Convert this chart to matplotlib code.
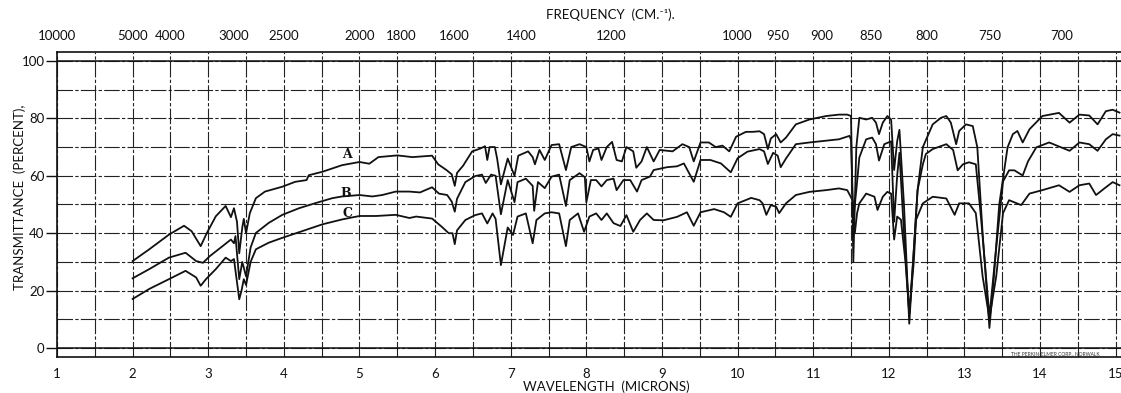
import numpy as np
import matplotlib.pyplot as plt

plt.rcParams['font.family'] = ['Lato', 'DejaVu Sans']

# Curve A (upper spectrum): wavelength in microns, transmittance in percent
wl_a = [2.00, 2.22, 2.48, 2.68, 2.78, 2.90, 2.98, 3.10, 3.23, 3.30, 3.34, 3.38, 3.41, 3.45, 3.47, 3.50,
        3.55, 3.63, 3.75, 3.98, 4.15, 4.30, 4.33, 4.51, 4.77, 5.00, 5.13, 5.25, 5.50, 5.70, 5.96, 6.04,
        6.15, 6.22, 6.26, 6.29, 6.37, 6.49, 6.60, 6.66, 6.69, 6.72, 6.79, 6.82, 6.87, 6.92, 6.96, 7.05,
        7.10, 7.23, 7.29, 7.32, 7.38, 7.45, 7.54, 7.64, 7.73, 7.80, 7.91, 8.00, 8.04, 8.09, 8.16, 8.20,
        8.27, 8.34, 8.40, 8.47, 8.53, 8.62, 8.66, 8.73, 8.80, 8.89, 8.97, 9.14, 9.27, 9.36, 9.42, 9.51,
        9.62, 9.71, 9.80, 9.89, 9.98, 10.11, 10.20, 10.29, 10.35, 10.40, 10.44, 10.51, 10.57, 10.64,
        10.77, 10.95, 11.06, 11.17, 11.34, 11.45, 11.50, 11.53, 11.57, 11.61, 11.70, 11.78, 11.83,
        11.87, 11.92, 11.98, 12.03, 12.07, 12.11, 12.14, 12.20, 12.27, 12.32, 12.38, 12.45, 12.58,
        12.69, 12.76, 12.82, 12.89, 12.93, 13.02, 13.11, 13.17, 13.24, 13.33, 13.39, 13.46, 13.57,
        13.64, 13.70, 13.77, 13.86, 14.03, 14.25, 14.39, 14.52, 14.65, 14.76, 14.87, 14.96, 15.05]
t_a = [30.3, 34.4, 39.5, 42.6, 40.7, 35.5, 40.0, 45.9, 49.5, 45.6, 48.7, 44.0, 33.0, 42.0, 45.0, 40.0,
       47.0, 52.2, 54.5, 56.2, 57.9, 58.5, 60.2, 61.4, 63.7, 64.8, 64.2, 66.5, 67.1, 66.5, 67.0, 64.0,
       62.0, 60.5, 56.5, 61.0, 63.5, 68.5, 69.5, 70.3, 65.5, 70.0, 70.0, 66.0, 57.0, 62.0, 66.0, 60.0,
       67.0, 68.5, 66.5, 64.0, 69.0, 65.5, 70.7, 71.0, 62.0, 70.0, 71.0, 70.0, 65.0, 69.0, 69.5, 65.5,
       70.0, 71.8, 65.5, 65.0, 70.0, 68.5, 62.8, 65.0, 70.0, 65.0, 69.0, 68.5, 71.0, 70.0, 65.0, 71.6,
       71.6, 70.0, 70.5, 68.5, 73.6, 75.3, 75.3, 75.5, 74.5, 69.3, 73.0, 74.5, 71.6, 73.3,
       77.9, 79.6, 80.2, 80.8, 81.3, 81.3, 80.8, 30.0, 70.0, 80.2, 79.6, 80.2, 78.5,
       74.5, 78.5, 80.8, 79.6, 62.0, 72.0, 76.0, 50.0, 8.5, 30.0, 55.0, 70.0, 77.9,
       80.2, 80.8, 78.5, 71.0, 75.6, 77.9, 77.3, 69.9, 40.0, 7.0, 25.0, 50.0, 69.9,
       74.5, 75.6, 71.6, 76.2, 80.8, 81.9, 78.5, 81.3, 81.0, 77.9, 82.5, 83.0, 82.0]

# Curve B (middle spectrum)
wl_b = [2.00, 2.22, 2.48, 2.70, 2.84, 2.93, 3.02, 3.19, 3.30, 3.34, 3.36, 3.41, 3.45, 3.47, 3.50, 3.56,
        3.63, 3.80, 3.98, 4.20, 4.42, 4.64, 4.77, 5.00, 5.17, 5.30, 5.48, 5.66, 5.80, 5.96, 6.05, 6.16,
        6.22, 6.26, 6.29, 6.40, 6.53, 6.62, 6.67, 6.74, 6.80, 6.87, 6.96, 7.05, 7.09, 7.20, 7.29, 7.31,
        7.36, 7.45, 7.54, 7.64, 7.73, 7.78, 7.91, 7.98, 8.00, 8.06, 8.13, 8.20, 8.27, 8.36, 8.40, 8.49,
        8.58, 8.67, 8.73, 8.84, 8.89, 8.98, 9.07, 9.20, 9.29, 9.42, 9.51, 9.64, 9.78, 9.91, 10.00,
        10.13, 10.29, 10.35, 10.40, 10.47, 10.53, 10.57, 10.64, 10.77, 10.95, 11.17, 11.34, 11.48,
        11.50, 11.53, 11.57, 11.61, 11.70, 11.78, 11.83, 11.87, 11.94, 12.03, 12.07, 12.11, 12.14,
        12.20, 12.27, 12.32, 12.38, 12.45, 12.49, 12.58, 12.76, 12.85, 12.91, 12.98, 13.06, 13.15,
        13.22, 13.33, 13.42, 13.51, 13.59, 13.66, 13.77, 13.84, 13.95, 14.12, 14.39, 14.52, 14.65,
        14.76, 14.87, 14.96, 15.05]
t_b = [24.3, 27.5, 31.5, 33.2, 30.3, 29.7, 32.0, 35.5, 37.8, 36.5, 39.0, 24.0, 30.0, 28.0, 25.0, 35.0,
       40.1, 43.6, 46.4, 48.7, 50.5, 52.2, 52.8, 53.3, 52.8, 53.3, 54.5, 54.5, 54.2, 56.0, 53.8, 53.3,
       51.0, 47.5, 52.0, 57.8, 59.9, 60.4, 57.5, 60.4, 60.0, 46.6, 58.5, 50.8, 57.8, 59.0, 56.5, 47.8,
       57.8, 55.7, 59.7, 60.4, 49.5, 58.5, 60.9, 59.5, 50.8, 58.5, 58.5, 56.3, 58.5, 59.0, 55.0, 58.5,
       58.5, 54.5, 58.5, 59.7, 62.0, 62.5, 63.0, 63.3, 64.3, 57.9, 65.5, 65.5, 64.3, 61.2, 66.1,
       68.4, 69.3, 68.5, 64.1, 68.0, 67.0, 63.0, 66.0, 71.0, 71.6, 72.2, 72.7, 73.9,
       72.5, 45.0, 55.0, 66.4, 72.7, 73.3, 71.0, 65.3, 71.0, 72.0, 44.0, 60.0, 68.0,
       40.0, 12.0, 30.0, 55.0, 64.0, 67.6, 69.3, 71.0, 69.0, 61.9, 64.0, 64.7, 64.0,
       45.0, 11.0, 35.0, 58.0, 61.9, 61.9, 60.1, 65.0, 69.9, 71.6, 68.7, 71.6, 71.0,
       68.7, 72.7, 74.5, 74.0]

# Curve C (lower spectrum)
wl_c = [2.00, 2.22, 2.48, 2.70, 2.84, 2.90, 2.97, 3.10, 3.23, 3.30, 3.34, 3.41, 3.44, 3.47, 3.50, 3.56,
        3.63, 3.80, 3.98, 4.24, 4.51, 4.77, 5.00, 5.22, 5.48, 5.66, 5.75, 5.96, 6.09, 6.18, 6.23, 6.26,
        6.29, 6.40, 6.53, 6.62, 6.69, 6.76, 6.80, 6.87, 6.96, 7.03, 7.09, 7.20, 7.29, 7.34, 7.45, 7.54,
        7.64, 7.73, 7.78, 7.89, 7.97, 8.04, 8.13, 8.20, 8.27, 8.36, 8.45, 8.53, 8.62, 8.71, 8.80, 8.89,
        9.02, 9.20, 9.33, 9.42, 9.51, 9.69, 9.82, 9.91, 10.00, 10.18, 10.29, 10.33, 10.38, 10.44,
        10.51, 10.55, 10.64, 10.77, 10.95, 11.17, 11.34, 11.45, 11.52, 11.55, 11.58, 11.61, 11.70,
        11.81, 11.85, 11.92, 11.98, 12.03, 12.07, 12.11, 12.16, 12.22, 12.27, 12.33, 12.36, 12.45,
        12.58, 12.76, 12.87, 12.93, 13.06, 13.15, 13.24, 13.33, 13.42, 13.51, 13.59, 13.75, 13.86,
        14.03, 14.25, 14.39, 14.52, 14.65, 14.74, 14.87, 14.96, 15.05]
t_c = [17.1, 20.6, 24.0, 26.9, 24.6, 21.7, 24.0, 27.5, 31.5, 30.3, 31.0, 17.0, 20.0, 24.0, 22.0, 30.0,
       34.4, 36.7, 38.4, 40.7, 43.1, 44.8, 46.0, 46.0, 46.4, 45.3, 45.8, 45.1, 42.2, 40.0, 40.0, 36.2,
       41.0, 44.6, 46.3, 46.9, 43.4, 46.9, 45.0, 28.9, 42.0, 39.4, 45.8, 46.9, 36.5, 44.6, 46.9, 47.3,
       46.9, 35.5, 44.6, 46.9, 40.5, 45.8, 46.9, 44.6, 46.9, 43.5, 42.5, 46.3, 40.5, 44.6, 46.9, 44.6,
       44.5, 45.7, 47.3, 42.6, 47.3, 48.4, 47.3, 45.7, 50.4, 52.3, 51.5, 50.4, 46.4, 49.8,
       49.2, 47.0, 50.4, 53.3, 54.4, 55.0, 55.6, 55.0, 51.5, 40.0, 47.0, 50.4, 53.8,
       52.7, 48.1, 52.7, 54.4, 53.8, 37.8, 45.8, 44.7, 30.0, 12.0, 30.0, 44.7, 50.4,
       52.7, 52.1, 46.4, 50.4, 50.4, 47.0, 25.0, 10.3, 25.0, 47.0, 51.5, 49.8, 53.8,
       55.0, 56.7, 54.4, 56.7, 57.3, 53.3, 56.0, 57.8, 56.7]

curve_names = ['A', 'B', 'C']
label_pos = [(4.84, 67.5), (4.82, 54.0), (4.84, 47.0)]

micron_ticks = list(range(1, 16))
freq_ticks = [10000, 5000, 4000, 3000, 2500, 2000, 1800, 1600, 1400, 1200,
              1000, 950, 900, 850, 800, 750, 700]
pct_ticks = [0, 20, 40, 60, 80, 100]

fig = plt.figure(figsize=(11.21, 3.93), dpi=100)
ax = fig.add_axes([57 / 1121, 36 / 393, 1064 / 1121, 305 / 393])

# chart paper grid
ax.set_xticks(micron_ticks)
ax.set_xticks(np.arange(1.5, 15.5, 1.0), minor=True)
ax.set_yticks(pct_ticks)
ax.set_yticks(range(10, 100, 20), minor=True)
ax.grid(which='both', color='#222222', linewidth=0.8, linestyle=(0, (14, 2, 3, 2)))
ax.axhline(100, color='#111111', lw=1.1)
ax.axhline(0, color='#111111', lw=1.1)

for wl, t in [(wl_a, t_a), (wl_b, t_b), (wl_c, t_c)]:
    ax.plot(wl, t, color='#111111', lw=1.3, solid_joinstyle='round')

for name, (x, y) in zip(curve_names, label_pos):
    ax.text(x, y, name, ha='center', va='center', fontsize=9, fontweight='bold',
            family='DejaVu Serif', color='#111111')

ax.set_xlim(1, 15.07)
ax.set_ylim(-3.1, 103.1)

for s in ['left', 'top', 'bottom']:
    ax.spines[s].set_linewidth(1.2)
    ax.spines[s].set_color('#111111')
ax.spines['right'].set_visible(False)

ax.tick_params(axis='x', which='both', length=0, pad=8, labelsize=9.5, colors='#111111')
ax.tick_params(axis='y', which='major', length=8, width=1, pad=1, labelsize=9.5, colors='#111111')
ax.tick_params(axis='y', which='minor', length=0)

top = ax.secondary_xaxis('top', functions=(lambda w: 1e4 / np.maximum(w, 1e-6),
                                           lambda f: 1e4 / np.maximum(f, 1e-6)))
top.set_xticks(freq_ticks)
top.set_xticklabels([str(f) for f in freq_ticks])
top.tick_params(axis='x', length=0, pad=7, labelsize=9.5, colors='#111111')
top.spines['top'].set_visible(False)

fig.text(606 / 1121, 1 - 387 / 393, 'WAVELENGTH  (MICRONS)', ha='center', va='center',
         fontsize=9.5, color='#111111')
fig.text(610 / 1121, 1 - 15 / 393, 'FREQUENCY  (CM.\u207b\u00b9).', ha='center', va='center',
         fontsize=9.5, color='#111111')
fig.text(20 / 1121, 1 - 197 / 393, 'TRANSMITTANCE  (PERCENT),', ha='center', va='center',
         rotation=90, fontsize=9.5, color='#111111')
ax.text(13.62, -1.8, 'THE PERKIN-ELMER CORP., NORWALK', fontsize=3.5,
        ha='left', va='center', color='#333333')

fig.savefig('out.png', dpi=100)
